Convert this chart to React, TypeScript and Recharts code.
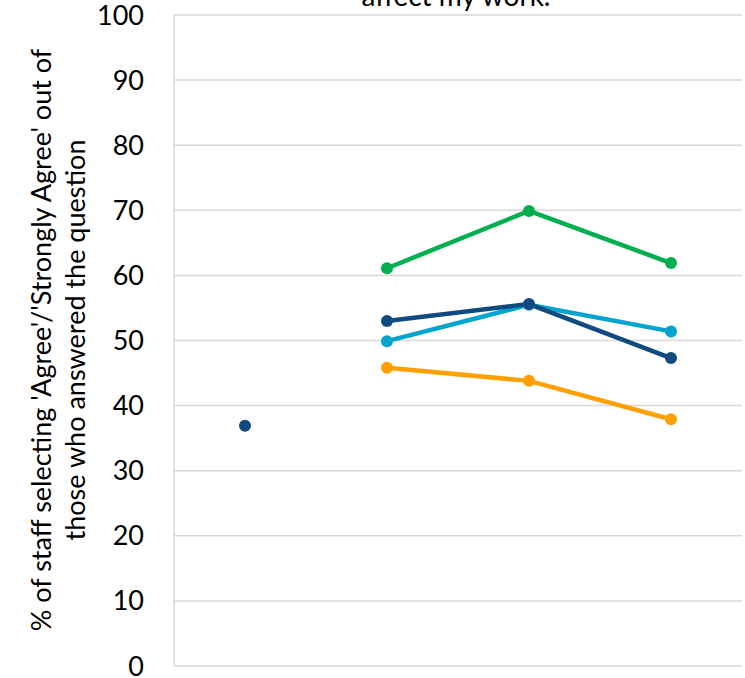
import { LineChart, Line, XAxis, YAxis, CartesianGrid } from 'recharts';

// Survey periods (the x axis shows no labels in the original)
const periods = ['2019', '2020', '2021', '2022'];

const earlyDark = [36.9, null, null, null];
const darkBlue = [null, 53.0, 55.6, 47.3];
const lightBlue = [null, 49.9, 55.5, 51.4];
const green = [null, 61.1, 69.9, 61.9];
const orange = [null, 45.8, 43.8, 37.9];

const yTicks = [0, 10, 20, 30, 40, 50, 60, 70, 80, 90, 100];

const data = periods.map((p, i) => ({
  period: p,
  earlyDark: earlyDark[i],
  darkBlue: darkBlue[i],
  lightBlue: lightBlue[i],
  green: green[i],
  orange: orange[i],
}));

const FONT = 'Lato, "Open Sans", sans-serif';

function AxisTitle() {
  const cx = 51;
  const cy = 340;
  return (
    <text
      transform={`rotate(-90, ${cx}, ${cy})`}
      x={cx}
      y={cy}
      textAnchor="middle"
      fontFamily={FONT}
      fontSize={27}
      fill="#000"
    >
      <tspan x={cx} dy={0}>% of staff selecting 'Agree'/'Strongly Agree' out of</tspan>
      <tspan x={cx} dy={34}>those who answered the question</tspan>
    </text>
  );
}

export default function App() {
  const lineProps = {
    type: 'linear' as const,
    strokeWidth: 4.5,
    isAnimationActive: false,
    connectNulls: false,
  };
  return (
    <div style={{ position: 'absolute', left: 0, top: 0, width: 745, height: 678, background: '#fff' }}>
      <LineChart width={745} height={678} data={data} margin={{ top: 15, right: 3, bottom: 12, left: 0 }}>
        <CartesianGrid vertical={false} stroke="#D9D9D9" strokeWidth={1.5} />
        <XAxis
          dataKey="period"
          tick={false}
          tickLine={false}
          height={0}
          padding={{ left: 71, right: 71 }}
          axisLine={{ stroke: '#D9D9D9', strokeWidth: 1.5 }}
        />
        <YAxis
          domain={[0, 100]}
          ticks={yTicks}
          interval={0}
          width={174}
          tickLine={false}
          tickMargin={24}
          axisLine={{ stroke: '#D9D9D9', strokeWidth: 1.5 }}
          tick={{ fontSize: 27, fill: '#000', fontFamily: FONT }}
        />
        <Line {...lineProps} dataKey="earlyDark" stroke="#0F4A80" dot={{ r: 6, fill: '#0F4A80', stroke: '#0F4A80', strokeWidth: 0 }} />
        <Line {...lineProps} dataKey="lightBlue" stroke="#00A5CF" dot={{ r: 6, fill: '#00A5CF', stroke: '#00A5CF', strokeWidth: 0 }} />
        <Line {...lineProps} dataKey="darkBlue" stroke="#0F4A80" dot={{ r: 6, fill: '#0F4A80', stroke: '#0F4A80', strokeWidth: 0 }} />
        <Line {...lineProps} dataKey="green" stroke="#00B050" dot={{ r: 6, fill: '#00B050', stroke: '#00B050', strokeWidth: 0 }} />
        <Line {...lineProps} dataKey="orange" stroke="#FF9F00" dot={{ r: 6, fill: '#FF9F00', stroke: '#FF9F00', strokeWidth: 0 }} />
        <text x={456} y={6} textAnchor="middle" fontFamily={FONT} fontSize={28} fill="#000">
          affect my work.
        </text>
        <AxisTitle />
      </LineChart>
    </div>
  );
}
